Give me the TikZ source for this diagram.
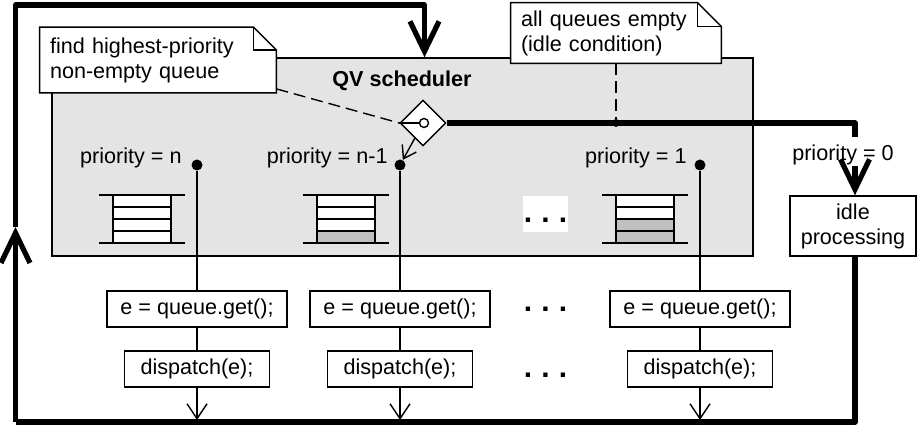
\documentclass[tikz,border=0pt]{standalone}
\usepackage{fontspec}
\setmainfont{Liberation Sans}
\usetikzlibrary{arrows.meta,shapes.geometric,calc}
\definecolor{schedgray}{RGB}{228,228,228}
\definecolor{qgray}{RGB}{192,192,192}
\newcommand\qvqueue[2]{%
  \fill[white] (#1-29,195) rectangle (#1+29,243);
  \ifnum#2>0 \fill[qgray] (#1-29,243-12*#2) rectangle (#1+29,243);\fi
  \draw[thinline] (#1-29,195) rectangle (#1+29,243);
  \foreach \yy in {207,219,231} \draw[thinline] (#1-29,\yy) -- (#1+29,\yy);
  \draw[thinline] (#1-43,195) -- (#1+43,195);
  \draw[thinline] (#1-43,243) -- (#1+43,243);
}
\begin{document}
\begin{tikzpicture}[x=0.5pt,y=-0.5pt,
  font=\fontsize{10.8}{12.5}\selectfont,
  thinline/.style={line width=0.7pt},
  thickline/.style={line width=2.6pt, line join=round},
  bigarrow/.style={-{Straight Barb[length=15pt,width=14.5pt]}},
  smallarrow/.style={-{Straight Barb[length=7.5pt,width=10pt]}},
  box/.style={draw, line width=0.7pt, fill=white, minimum height=18pt, inner sep=0pt},
  notebox/.style={fill=white, inner xsep=5pt, inner ysep=0pt, align=left},
  pdot/.style={circle, fill=black, inner sep=0pt, minimum size=5.5pt},
  plabel/.style={anchor=base east, inner sep=0pt},
  dots/.style={font=\fontsize{15}{15}\selectfont\bfseries, inner sep=0pt}
]
\useasboundingbox (0,0) rectangle (917,427);

% scheduler box
\node[draw, thinline, fill=schedgray, minimum width=350.5pt, minimum height=99pt, inner sep=0pt] (sched) at (402.5,157) {};
\node[font=\fontsize{10.8}{12.5}\selectfont\bfseries] (qvl) at (402,81) {QV scheduler};

% queues
\qvqueue{142}{0}
\qvqueue{346}{1}
\qvqueue{645}{2}
\node[fill=white, minimum width=22.5pt, minimum height=18pt, inner sep=0pt] (wb) at (545.5,214) {};
\node[dots] (e0) at (545.5,220) {.\hspace{4.6pt}.\hspace{4.6pt}.};

% priority dots and labels
\node[pdot] (d1) at (197,165) {};
\node[pdot] (d2) at (400,165) {};
\node[pdot] (d3) at (700,165) {};
\node[plabel] (l1) at (182,164) {priority = n};
\node[plabel] (l2) at (388,164) {priority = n-1};
\node[plabel] (l3) at (687,164) {priority = 1};

% boxes
\node[box, minimum width=90pt] (g1) at (197,309) {e = queue.get();};
\node[box, minimum width=90pt] (g2) at (400,309) {e = queue.get();};
\node[box, minimum width=90pt] (g3) at (700,309) {e = queue.get();};
\node[box, minimum width=72.5pt] (p1) at (197,369) {dispatch(e);};
\node[box, minimum width=72.5pt] (p2) at (400,369) {dispatch(e);};
\node[box, minimum width=72.5pt] (p3) at (700,369) {dispatch(e);};
\node[dots] (e1) at (545.5,309) {.\hspace{4.6pt}.\hspace{4.6pt}.};
\node[dots] (e2) at (545.5,375) {.\hspace{4.6pt}.\hspace{4.6pt}.};

\node[box, minimum width=63pt, minimum height=30pt, align=center] (idle) at (853,226) {idle\\processing};

% bottom coordinates
\coordinate (b1) at (197,420);
\coordinate (b2) at (400,420);
\coordinate (b3) at (700,420);
\foreach \i in {1,2,3}{
  \draw[thinline] (d\i) -- (g\i);
  \draw[thinline] (g\i) -- (p\i);
  \draw[thinline, smallarrow] (p\i) -- (b\i);
}

% diamond
\node[diamond, draw, thinline, fill=white, minimum size=23pt, inner sep=0pt] (dm) at (423,123) {};
\node[circle, draw, thinline, fill=white, minimum size=4.5pt, inner sep=0pt] (sw) at (424,123) {};
\draw[thinline] (dm.west) -- (sw.west);
\draw[thinline, -{Straight Barb[length=6pt,width=8pt]}] ($(dm.south)!0.35!(dm.west)$) -- (d2);

% idle branch
\node[circle, fill=black, draw, inner sep=0pt, minimum size=3.5pt] (jd) at (616,123) {};
\coordinate (c2) at (855,137);
\coordinate (c3) at (855,166);
\draw[thickline] (dm.east) -| (c2);
\node[anchor=base, inner sep=0pt] (l0) at (843,161) {priority = 0};
\draw[thickline, bigarrow] (c3) -- (c3 |- idle.north);

% outer loop
\coordinate (blc) at (15.5,422);
\coordinate (la) at (15.5,227);
\coordinate (topr) at (424.5,5);
\draw[thickline] (c3 |- idle.south) |- (blc);
\draw[thickline, bigarrow] (blc) -- (la);
\draw[thickline, bigarrow] (la) |- (topr) -- (topr |- sched.north);

% notes
\node[notebox, text width=108pt, minimum height=32.5pt] (n1) at (158,60) {find highest-priority\\non-empty queue};
\draw[thinline] (n1.south west) -- (n1.north west) -- ($(n1.north east)+(-23,0)$) -- ($(n1.north east)+(0,23)$) -- (n1.south east) -- cycle;
\draw[thinline] ($(n1.north east)+(-23,0)$) |- ($(n1.north east)+(0,23)$);
\node[notebox, text width=95pt, minimum height=30pt] (n2) at (616,33) {all queues empty\\(idle condition)};
\draw[thinline] (n2.south west) -- (n2.north west) -- ($(n2.north east)+(-24,0)$) -- ($(n2.north east)+(0,24)$) -- (n2.south east) -- cycle;
\draw[thinline] ($(n2.north east)+(-24,0)$) |- ($(n2.north east)+(0,24)$);

% dashed note links
\draw[thinline, dash pattern=on 6pt off 3pt] ($(n1.south east)+(0,-4)$) -- (dm.west);
\draw[thinline, dash pattern=on 6pt off 3pt] (n2.south) -- (jd);
\end{tikzpicture}
\end{document}
